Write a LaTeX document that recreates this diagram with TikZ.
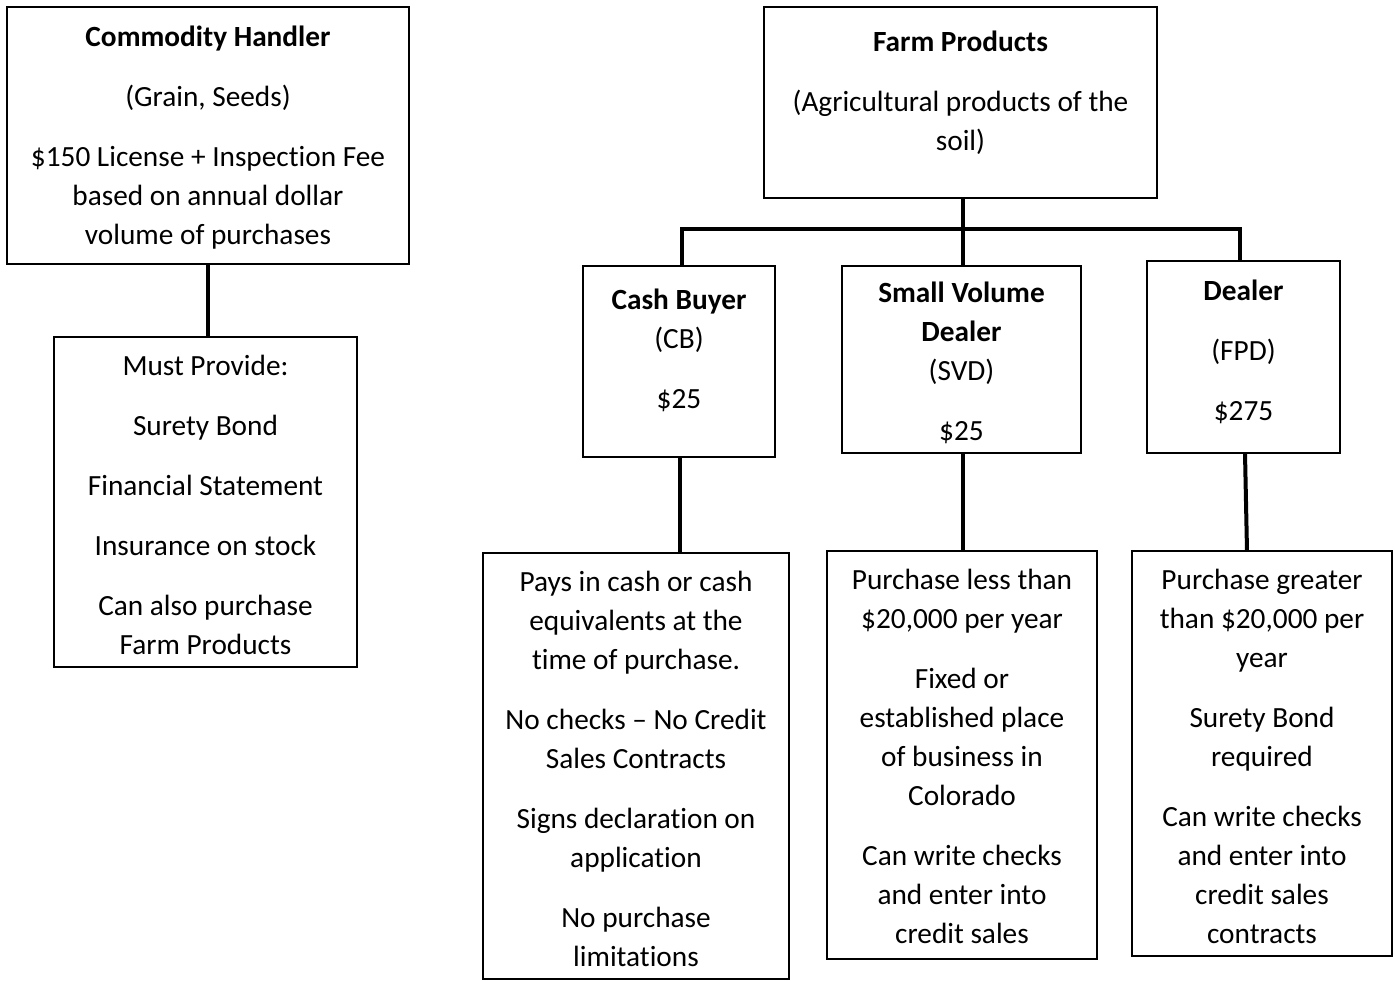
\documentclass[tikz,border=0pt]{standalone}
\usepackage{fontspec}
\setmainfont{Carlito}[Ligatures={NoCommon}]
\usetikzlibrary{calc}
\begin{document}
\begin{tikzpicture}[x=1pt,y=-1pt,
  boxst/.style={draw=black,line width=2.6pt,inner sep=0pt,outer sep=0pt},
  conn/.style={draw=black,line width=4pt},
  txt/.style={anchor=north,inner sep=0pt,outer sep=0pt,align=flush center,text width=420pt,
    font=\fontsize{29.3}{39}\selectfont}]
\useasboundingbox (0,0) rectangle (1395,980);
\newcommand{\bx}[5]{\node[boxst,minimum width={#4-#2},minimum height={#5-#3}] (#1) at ({(#2+#4)/2},{(#3+#5)/2}) {};}
\bx{b1}{7}{7}{409}{264}
\bx{b2}{54}{337}{357}{667}
\bx{farm}{764}{7}{1157}{198}
\bx{cb}{583}{266}{775}{457}
\bx{svd}{842}{266}{1081}{453}
\bx{dealer}{1147}{261}{1340}{453}
\bx{cbd}{483}{553}{789}{979}
\bx{svdd}{827}{551}{1097}{959}
\bx{dd}{1132}{551}{1392}{956}
% texts
\node[txt] (t1) at (208,18.7) {\strut\textbf{Commodity Handler}\\[21pt](Grain, Seeds)\\[21pt]\$150 License + Inspection Fee\\based on annual dollar\\volume of purchases};
\node[txt] (t2) at (205.5,347.7) {\strut Must Provide:\\[21pt]Surety Bond\\[21pt]Financial Statement\\[21pt]Insurance on stock\\[21pt]Can also purchase\\Farm Products};
\node[txt] (t3) at (960.5,23.7) {\strut\textbf{Farm Products}\\[21pt](Agricultural products of the\\soil)};
\node[txt] (t4) at (679,281.7) {\strut\textbf{Cash Buyer}\\(CB)\\[21pt]\$25};
\node[txt] (t5) at (961.5,274.7) {\strut\textbf{Small Volume}\\\textbf{Dealer}\\(SVD)\\[21pt]\$25};
\node[txt] (t6) at (1243.5,272.7) {\strut\textbf{Dealer}\\[21pt](FPD)\\[21pt]\$275};
\node[txt] (t7) at (636,563.7) {\strut Pays in cash or cash\\equivalents at the\\time of purchase.\\[21pt]No checks – No Credit\\Sales Contracts\\[21pt]Signs declaration on\\application\\[21pt]No purchase\\limitations};
\node[txt] (t8) at (962,561.7) {\strut Purchase less than\\\$20,000 per year\\[21pt]Fixed or\\established place\\of business in\\Colorado\\[21pt]Can write checks\\and enter into\\credit sales};
\node[txt] (t9) at (1262,561.7) {\strut Purchase greater\\than \$20,000 per\\year\\[21pt]Surety Bond\\required\\[21pt]Can write checks\\and enter into\\credit sales\\contracts};
% connectors
\coordinate (j) at ($(farm.south)+(2.5,31)$);
\draw[conn] (b1.south) -- (b1.south |- b2.north);
\draw[conn] (farm.south -| j) -- (j);
\draw[conn] ($(cb.north)+(3,0)$) |- (j) -| ($(dealer.north)+(-3.5,0)$);
\draw[conn] (j) -- (j |- svd.north);
\draw[conn] ($(cb.south)+(1,0)$) -- ($(cb.south |- cbd.north)+(1,0)$);
\draw[conn] ($(svd.south)+(1.5,0)$) -- ($(svd.south |- svdd.north)+(1.5,0)$);
\draw[conn] ($(dealer.south)+(1.5,0)$) -- ($(dealer.south |- dd.north)+(3.5,0)$);
\end{tikzpicture}
\end{document}
